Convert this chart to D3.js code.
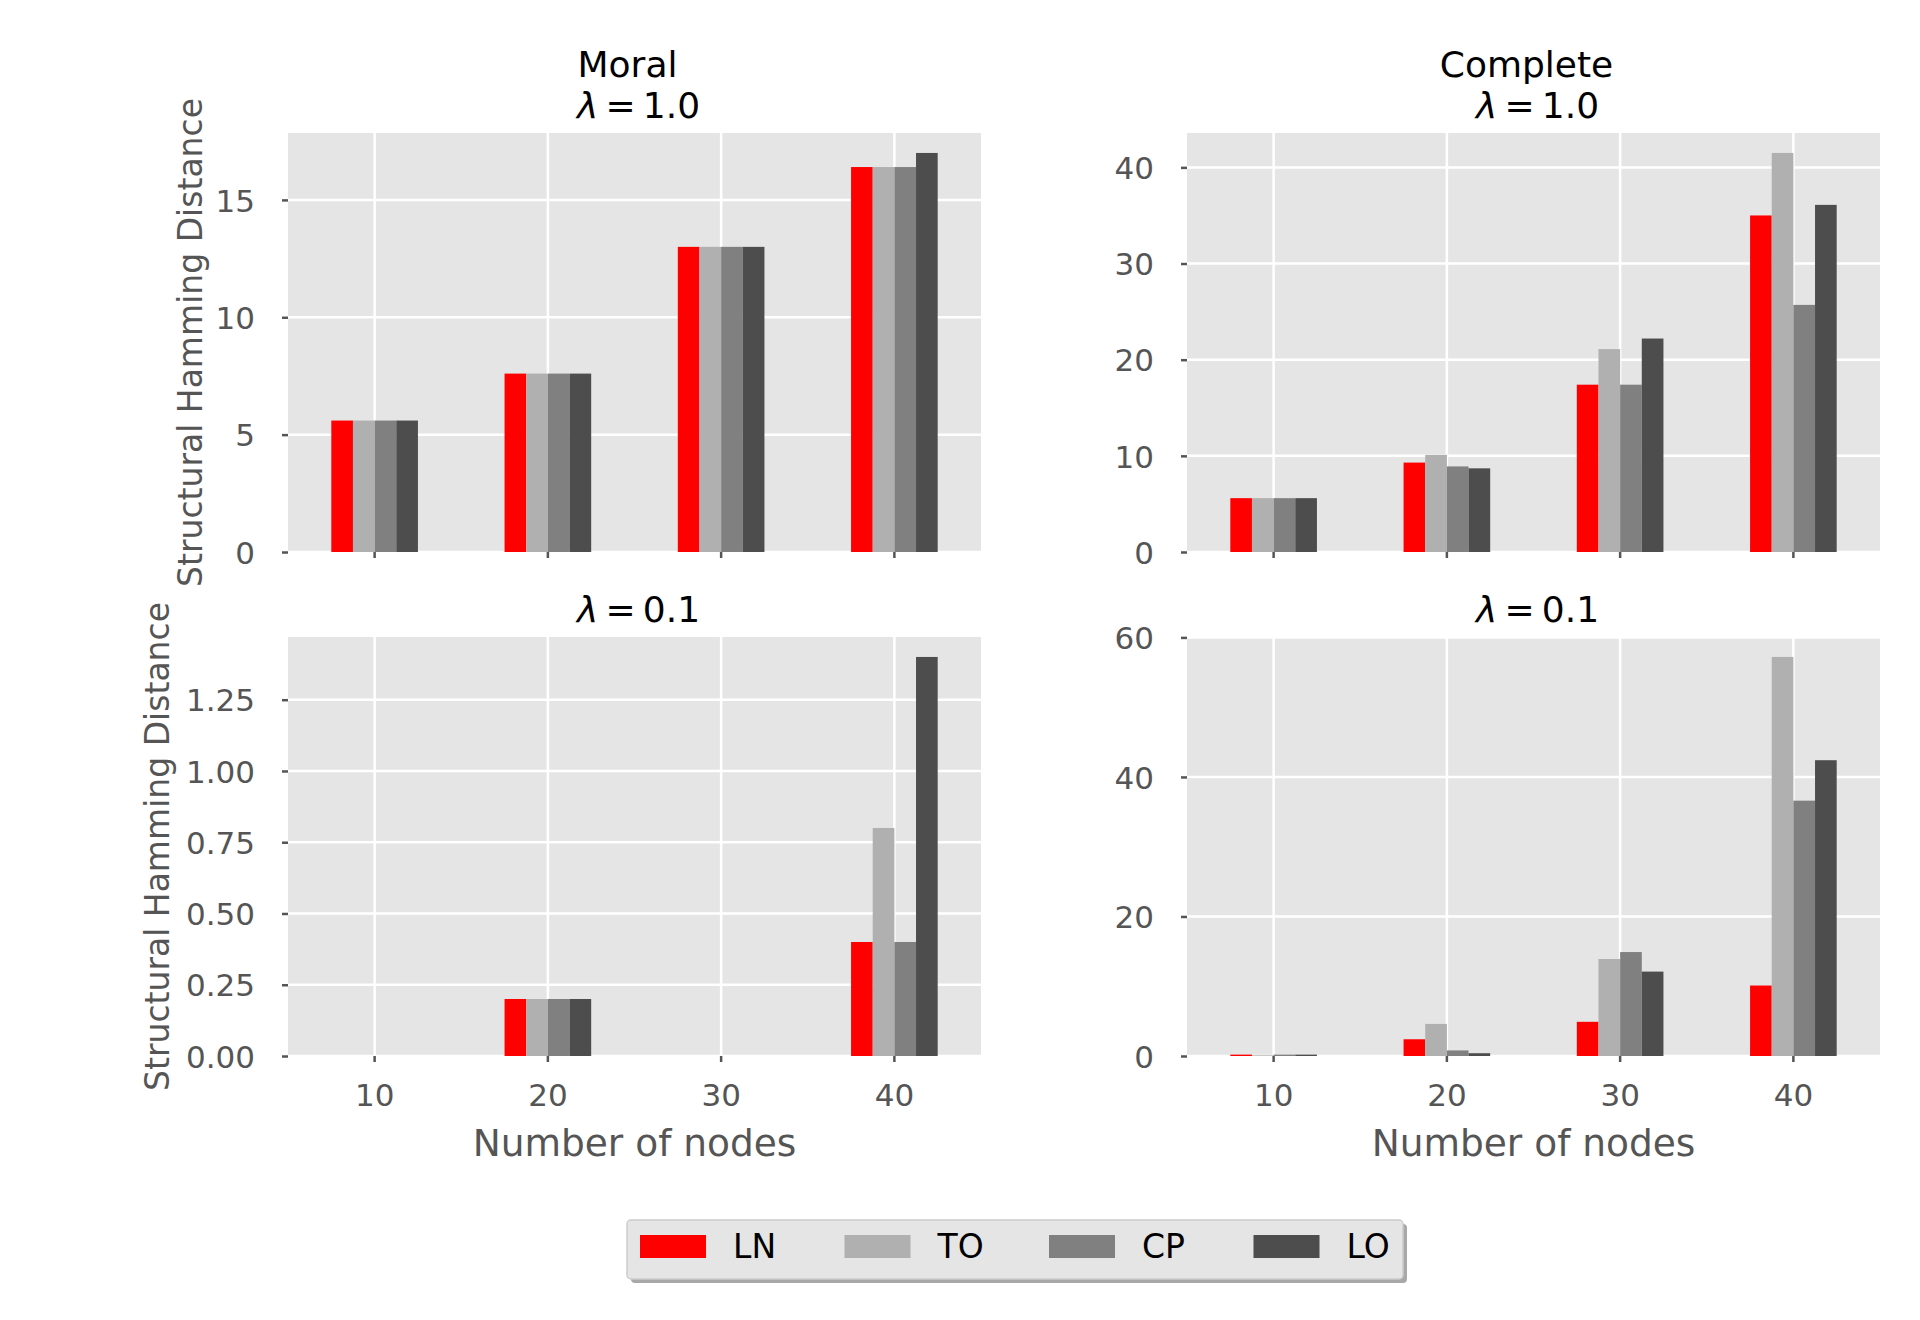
<!DOCTYPE html>
<html>
<head>
<meta charset="utf-8">
<script src="https://cdn.jsdelivr.net/npm/d3@7"></script>
<style>
  body { margin: 0; background: #fff; }
  text { font-family: "DejaVu Sans", sans-serif; }
</style>
</head>
<body>
<div id="chart"></div>
<script>
// structural hamming distance, moral vs complete, two lambda values
var nodes = ["10", "20", "30", "40"];
var methods = ["LN", "TO", "CP", "LO"];
var colors = ["#ff0000", "#b0b0b0", "#808080", "#4d4d4d"];

// one row per method (LN, TO, CP, LO), one value per node count
var moralLambda1 = [
    [5.6, 7.6, 13.0, 16.4],
    [5.6, 7.6, 13.0, 16.4],
    [5.6, 7.6, 13.0, 16.4],
    [5.6, 7.6, 13.0, 17.0]
];
var moralLambda01 = [
    [0, 0.2, 0, 0.4],
    [0, 0.2, 0, 0.8],
    [0, 0.2, 0, 0.4],
    [0, 0.2, 0, 1.4]
];
var completeLambda1 = [
    [5.6, 9.3, 17.4, 35.0],
    [5.6, 10.1, 21.1, 41.5],
    [5.6, 8.9, 17.4, 25.7],
    [5.6, 8.7, 22.2, 36.1]
];
var completeLambda01 = [
    [0.2, 2.4, 4.9, 10.1],
    [0.1, 4.6, 13.9, 57.2],
    [0.2, 0.8, 14.9, 36.6],
    [0.2, 0.4, 12.1, 42.4]
];

var ticksMoral1 = [0, 5, 10, 15];
var ticksMoral01 = [0, 0.25, 0.5, 0.75, 1.0, 1.25];
var ticksComplete1 = [0, 10, 20, 30, 40];
var ticksComplete01 = [0, 20, 40, 60];

var width = 1920, height = 1320;
var plotW = 693, plotH = 419;

var svg = d3.select("#chart").append("svg")
    .attr("width", width)
    .attr("height", height);

var panels = [
    {data: moralLambda1, ticks: ticksMoral1, fmt: d3.format("d"), x: 288, y: 133,
     title: ["Moral", "1.0"], ylabel: true, xlabels: false, ylabelX: 190},
    {data: completeLambda1, ticks: ticksComplete1, fmt: d3.format("d"), x: 1187, y: 133,
     title: ["Complete", "1.0"], ylabel: false, xlabels: false},
    {data: moralLambda01, ticks: ticksMoral01, fmt: d3.format(".2f"), x: 288, y: 637,
     title: [null, "0.1"], ylabel: true, xlabels: true, ylabelX: 157},
    {data: completeLambda01, ticks: ticksComplete01, fmt: d3.format("d"), x: 1187, y: 637,
     title: [null, "0.1"], ylabel: false, xlabels: true}
];

panels.forEach(function(p) {
    var g = svg.append("g")
        .attr("transform", "translate(" + p.x + "," + p.y + ")");

    var maxVal = d3.max(p.data, function(row) { return d3.max(row); });

    var x = d3.scaleBand()
        .domain(nodes)
        .range([0, plotW])
        .paddingInner(0.5)
        .paddingOuter(0.25);

    var xSub = d3.scaleBand()
        .domain(methods)
        .range([0, x.bandwidth()]);

    var y = d3.scaleLinear()
        .domain([0, maxVal * 1.05])
        .range([plotH, 0]);

    g.append("rect")
        .attr("width", plotW)
        .attr("height", plotH)
        .attr("fill", "#e5e5e5");

    // grid
    g.selectAll(".hgrid")
        .data(p.ticks)
        .enter()
        .append("line")
        .attr("x1", 0).attr("x2", plotW)
        .attr("y1", function(d) { return y(d); })
        .attr("y2", function(d) { return y(d); })
        .attr("stroke", "#fff")
        .attr("stroke-width", 2.5);

    g.selectAll(".vgrid")
        .data(nodes)
        .enter()
        .append("line")
        .attr("x1", function(d) { return x(d) + x.bandwidth() / 2; })
        .attr("x2", function(d) { return x(d) + x.bandwidth() / 2; })
        .attr("y1", 0).attr("y2", plotH)
        .attr("stroke", "#fff")
        .attr("stroke-width", 2.5);

    // bars
    methods.forEach(function(m, i) {
        g.selectAll(".bar-" + m)
            .data(p.data[i])
            .enter()
            .append("rect")
            .attr("x", function(d, j) { return x(nodes[j]) + xSub(m); })
            .attr("width", xSub.bandwidth())
            .attr("y", function(d) { return y(d); })
            .attr("height", function(d) { return plotH - y(d); })
            .attr("fill", colors[i]);
    });

    // y axis
    var yAxis = d3.axisLeft(y)
        .tickValues(p.ticks)
        .tickFormat(p.fmt)
        .tickSize(6)
        .tickPadding(27);

    var ya = g.append("g").call(yAxis);
    ya.select(".domain").remove();
    ya.selectAll(".tick line").attr("stroke", "#555").attr("stroke-width", 2.5);
    ya.selectAll(".tick text")
        .attr("fill", "#555")
        .style("font-size", "31px")
        .attr("dy", "0.36em");

    // x axis
    var xAxis = d3.axisBottom(x)
        .tickSize(6)
        .tickPadding(22);

    var xa = g.append("g")
        .attr("transform", "translate(0," + plotH + ")")
        .call(xAxis);
    xa.select(".domain").remove();
    xa.selectAll(".tick line").attr("stroke", "#555").attr("stroke-width", 2.5);
    xa.selectAll(".tick text")
        .attr("fill", "#555")
        .style("font-size", "31px")
        .attr("dy", "0.71em");
    if (!p.xlabels) {
        xa.selectAll(".tick text").remove();
    }

    // titles
    if (p.title[0]) {
        g.append("text")
            .attr("x", plotW / 2 - 7)
            .attr("y", -56)
            .attr("text-anchor", "middle")
            .style("font-size", "36px")
            .attr("fill", "#000")
            .text(p.title[0]);
    }
    var lam = g.append("text")
        .attr("x", plotW / 2 + 4)
        .attr("y", -15)
        .attr("text-anchor", "middle")
        .style("font-size", "36px")
        .attr("fill", "#000");
    lam.append("tspan").style("font-style", "italic").text("λ");
    lam.append("tspan").text("\u2009=\u2009" + p.title[1]);

    if (p.ylabel) {
        svg.append("text")
            .attr("transform", "translate(" + p.ylabelX + "," + (p.y + plotH / 2) + ") rotate(-90)")
            .attr("text-anchor", "middle")
            .attr("dy", "0.35em")
            .style("font-size", "33px")
            .attr("fill", "#555")
            .text("Structural Hamming Distance");
    }

    if (p.xlabels) {
        g.append("text")
            .attr("x", plotW / 2)
            .attr("y", plotH + 100)
            .attr("text-anchor", "middle")
            .style("font-size", "37.5px")
            .attr("fill", "#555")
            .text("Number of nodes");
    }
});

// legend
var legend = svg.append("g")
    .attr("transform", "translate(627,1220)");

legend.append("rect")
    .attr("x", 4).attr("y", 4)
    .attr("width", 776).attr("height", 59)
    .attr("rx", 4)
    .attr("fill", "#a8a8a8");

legend.append("rect")
    .attr("width", 776).attr("height", 59)
    .attr("rx", 4)
    .attr("fill", "#e5e5e5")
    .attr("stroke", "#cccccc")
    .attr("stroke-width", 1.5);

var item = legend.selectAll(".item")
    .data(methods)
    .enter()
    .append("g")
    .attr("transform", function(d, i) { return "translate(" + (13 + i * 204.5) + ",0)"; });

item.append("rect")
    .attr("y", 15)
    .attr("width", 66)
    .attr("height", 23)
    .attr("fill", function(d, i) { return colors[i]; });

item.append("text")
    .attr("x", 93)
    .attr("y", 38)
    .style("font-size", "33px")
    .attr("fill", "#000")
    .text(function(d) { return d; });
</script>
</body>
</html>
